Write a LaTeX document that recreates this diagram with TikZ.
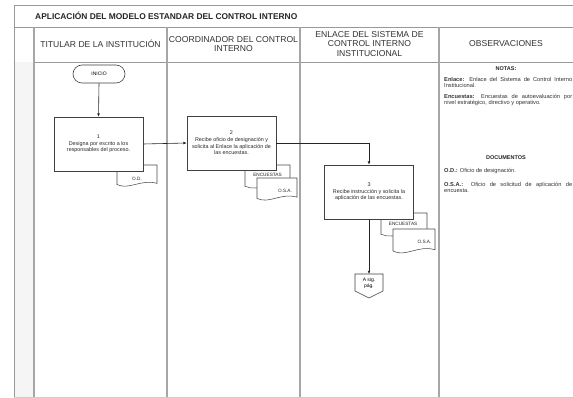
\documentclass[tikz,border=0pt]{standalone}
\usepackage{fontspec}
\setmainfont{Liberation Sans}
\usetikzlibrary{arrows.meta}
\hyphenpenalty=10000
\exhyphenpenalty=10000
\tikzset{
  lane/.style={draw=gray!70, line width=1.1pt},
  rule/.style={draw=gray!80, line width=0.9pt},
  hdr/.style={align=center, font=\fontsize{8.6}{9.6}\selectfont, text=black!80},
  proc/.style={draw=black!75, line width=0.7pt, fill=white, minimum width=89pt, minimum height=54pt, align=center, inner sep=1pt, font=\fontsize{5.4}{6.6}\selectfont, text=black!85},
  term/.style={draw=black!75, line width=0.6pt, fill=white, rounded corners=9pt, minimum width=52pt, minimum height=18pt, font=\fontsize{5}{6}\selectfont},
  docshape/.style={draw=black!70, line width=0.55pt, fill=white},
  doclabel/.style={font=\fontsize{4.7}{5.5}\selectfont, text=black!85, inner sep=0pt},
  flow/.style={draw=black!85, line width=0.6pt, -{Latex[length=3.2pt,width=2.8pt]}},
  note/.style={anchor=north west, text width=128pt, align=justify, inner sep=0pt, font=\fontsize{5.7}{6.6}\selectfont, text=black!80},
  notehead/.style={font=\bfseries\fontsize{5.5}{6.6}\selectfont, text=black!85, inner sep=0pt},
}
% #1 name, #2 x, #3 y, #4 w, #5 h, #6 label x-fraction, #7 label y-fraction, #8 text
\newcommand{\docu}[8]{%
  \draw[docshape] (#2,#3) -- ++(#4,0) -- ++(0,0.8*#5)
    .. controls ({#2+0.6*#4},{#3+0.6*#5}) and ({#2+0.3*#4},{#3+1.1*#5}) .. ({#2},{#3+0.85*#5}) -- cycle;
  \node[doclabel] (#1) at ({#2+#6*#4},{#3+#7*#5}) {#8};
}
\begin{document}
\begin{tikzpicture}[x=1pt,y=-1pt]
\useasboundingbox (0,0) rectangle (573,398);
\clip (0,0) rectangle (573,398);
\fill[white] (0,0) rectangle (573,398);
% left strip
\fill[gray!8] (14,62) rectangle (34,397);
% frame
\draw[rule] (14,397) -- (14,5) -- (575,5);
\draw[rule] (14,27) -- (575,27);
\draw[rule] (34,62) -- (575,62);
\draw[draw=gray!40, line width=0.6pt] (14,397) -- (575,397);
\draw[lane] (34,27) -- (34,397);
\draw[lane] (167,27) -- (167,397);
\draw[lane] (300,27) -- (300,397);
\draw[lane] (439,27) -- (439,397);
% title
\node[anchor=west, font=\bfseries\fontsize{8.4}{9.6}\selectfont, text=black!85, inner sep=0pt] (title) at (35,16) {APLICACIÓN DEL MODELO ESTANDAR DEL CONTROL INTERNO};
% headers
\node[hdr] (h1) at (100.5,44) {TITULAR DE LA INSTITUCIÓN};
\node[hdr] (h2) at (233.5,44) {COORDINADOR DEL CONTROL\\INTERNO};
\node[hdr] (h3) at (369.5,44) {ENLACE DEL SISTEMA DE\\CONTROL INTERNO\\INSTITUCIONAL};
\node[hdr] (h4) at (506,44) {OBSERVACIONES};
% documents (behind boxes)
\docu{d1}{117}{165}{40}{23}{0.5}{0.6}{O.D.}
\docu{d2}{245}{165}{45}{25}{0.5}{0.4}{ENCUESTAS}
\docu{d3}{257}{178}{40}{24}{0.7}{0.55}{O.S.A.}
\docu{d4}{381}{213}{46}{25}{0.48}{0.42}{ENCUESTAS}
\docu{d5}{393}{229}{42}{26}{0.75}{0.5}{O.S.A.}
% nodes
\node[term] (ini) at (99,74) {INICIO};
\node[proc] (b1) at (98.5,144) {1\\Designa por escrito a los\\responsables del proceso.};
\node[proc] (b2) at (231.5,143) {2\\Recibe oficio de designación y\\solicita al Enlace la aplicación de\\las encuestas.};
\node[proc] (b3) at (369,192) {3\\Recibe instrucción y solicita la\\aplicación de las encuestas.};
% off-page connector
\coordinate (offtop) at (369,274);
\draw[draw=black!75, line width=0.6pt, fill=white] (355,274) -- (383,274) -- (383,291) -- (369,298) -- (355,291) -- cycle;
\node[align=center, font=\fontsize{5}{6}\selectfont, inner sep=0pt] (off) at (369,283.5) {A sig.\\pág.};
% connectors
\draw[flow] (ini.south) -- (b1.north);
\draw[flow] (b1.east) -- (b2.west);
\draw[flow] (b2.east) -| (b3.north);
\draw[flow] (b3.south) -- (offtop);
% observations
\node[notehead] (notas) at (506,69) {NOTAS:};
\node[note] (n1) at (444,77) {\textbf{Enlace:} Enlace del Sistema de Control Interno Institucional.};
\node[note] (n2) at (444,94) {\textbf{Encuestas:} Encuestas de autoevaluación por\linebreak nivel estratégico, directivo y operativo.};
\node[notehead] (docs) at (506,158) {DOCUMENTOS};
\node[note] (n3) at (444,168) {\textbf{O.D.:} Oficio de designación.};
\node[note] (n4) at (444,182) {\textbf{O.S.A.:} Oficio de solicitud de aplicación de encuesta.};
\end{tikzpicture}
\end{document}
